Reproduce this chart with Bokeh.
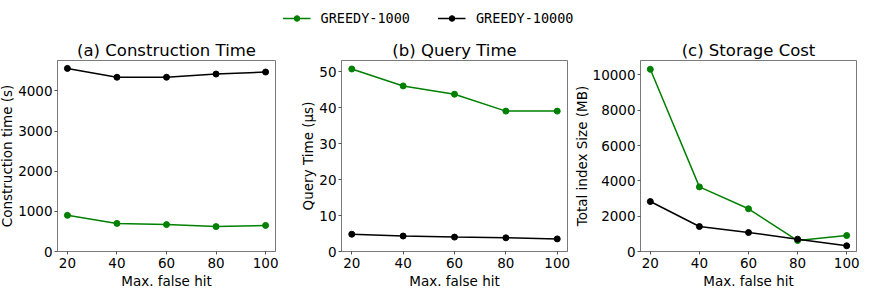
from bokeh.plotting import figure
from bokeh.layouts import column, row
from bokeh.models import FixedTicker, Range1d, Legend, LegendItem
from bokeh.embed import file_html
from bokeh.resources import INLINE

# ---- data ----
max_false_hit = [20, 40, 60, 80, 100]
x_ticks = [20, 40, 60, 80, 100]

construction_1000 = [900, 700, 670, 620, 650]
construction_10000 = [4560, 4340, 4340, 4420, 4470]
construction_ticks = [0, 1000, 2000, 3000, 4000]

query_1000 = [50.7, 46.0, 43.7, 39.0, 39.0]
query_10000 = [4.8, 4.3, 4.0, 3.8, 3.5]
query_ticks = [0, 10, 20, 30, 40, 50]

storage_1000 = [10320, 3660, 2420, 620, 905]
storage_10000 = [2830, 1415, 1075, 700, 323]
storage_ticks = [0, 2000, 4000, 6000, 8000, 10000]

series_labels = ["GREEDY-1000", "GREEDY-10000"]
series_colors = ["#008000", "#000000"]

FONT = "DejaVu Sans"
FRAME = "#7a7a7a"
TICK = "#555555"
PANEL_H = 256


def panel(title, ylabel, y_a, y_b, yticks, width, left, right):
    ymax = max(max(y_a), max(y_b))
    ymin = min(min(y_a), min(y_b))
    top = ymax + 0.05 * (ymax - ymin)
    p = figure(width=width, height=PANEL_H, output_backend="svg", toolbar_location=None,
               x_range=Range1d(16, 104), y_range=Range1d(0, top),
               min_border_left=left, min_border_right=right,
               min_border_top=24, min_border_bottom=41)
    p.title.text = title
    p.title.text_font = FONT
    p.title.text_font_size = "16.5px"
    p.title.text_font_style = "normal"
    p.title.text_color = "black"
    p.title.align = "center"
    p.title.standoff = 2
    p.title.offset = 0
    p.grid.visible = False
    p.outline_line_color = FRAME
    p.outline_line_width = 1
    p.background_fill_color = "white"
    p.border_fill_color = "white"
    for ax in (p.xaxis[0], p.yaxis[0]):
        ax.axis_line_color = FRAME
        ax.major_tick_line_color = TICK
        ax.minor_tick_line_color = None
        ax.major_tick_in = 0
        ax.major_tick_out = 3
        ax.major_label_standoff = 2
        ax.major_label_text_font = FONT
        ax.major_label_text_font_size = "13.5px"
        ax.major_label_text_color = "black"
        ax.axis_label_text_font = FONT
        ax.axis_label_text_font_size = "13.5px"
        ax.axis_label_text_font_style = "normal"
        ax.axis_label_text_color = "black"
    p.xaxis.ticker = FixedTicker(ticks=x_ticks)
    p.yaxis.ticker = FixedTicker(ticks=yticks)
    p.xaxis.axis_label = "Max. false hit"
    p.yaxis.axis_label = ylabel
    p.xaxis.major_label_standoff = 3
    p.xaxis.axis_label_standoff = 2
    p.yaxis.axis_label_standoff = 0
    for ys, c in zip((y_a, y_b), series_colors):
        p.line(max_false_hit, ys, line_color=c, line_width=1.5)
        p.scatter(max_false_hit, ys, size=6, fill_color=c, line_color=c)
    return p


# page is shifted so the row starts at x=4; frames at ~57-283, 349-575, 642-864
pa = panel("(a) Construction Time", "Construction time (s)",
           construction_1000, construction_10000, construction_ticks, 293, 53, 14)
pb = panel("(b) Query Time", "Query Time (µs)",
           query_1000, query_10000, query_ticks, 281, 52, 3)
pc = panel("(c) Storage Cost", "Total index Size (MB)",
           storage_1000, storage_10000, storage_ticks, 290, 64, 4)

# ---- legend strip (series drawn off-range so only the legend shows) ----
lg = figure(width=864, height=36, output_backend="svg", toolbar_location=None,
            x_axis_type=None, y_axis_type=None,
            x_range=Range1d(1000, 1001), y_range=Range1d(100000, 100001),
            min_border=0)
lg.outline_line_color = None
lg.grid.visible = False
items = []
for lab, c, ys in zip(series_labels, series_colors, (query_1000, query_10000)):
    r1 = lg.line(max_false_hit, ys, line_color=c, line_width=1.5)
    r2 = lg.scatter(max_false_hit, ys, size=6, fill_color=c, line_color=c)
    items.append(LegendItem(label=lab, renderers=[r1, r2]))
legend = Legend(items=items, orientation="horizontal", location="center",
                glyph_width=28, glyph_height=14, label_standoff=10, spacing=28,
                padding=0, margin=0, border_line_color=None,
                background_fill_alpha=0,
                label_text_font="DejaVu Sans Mono", label_text_font_size="13.5px",
                label_text_color="black")
lg.add_layout(legend, "center")

root = column(lg, row(pa, pb, pc, spacing=0), spacing=0,
              styles={"position": "absolute", "margin-left": "-4px"})

open("out.html", "w").write(file_html(root, INLINE))
